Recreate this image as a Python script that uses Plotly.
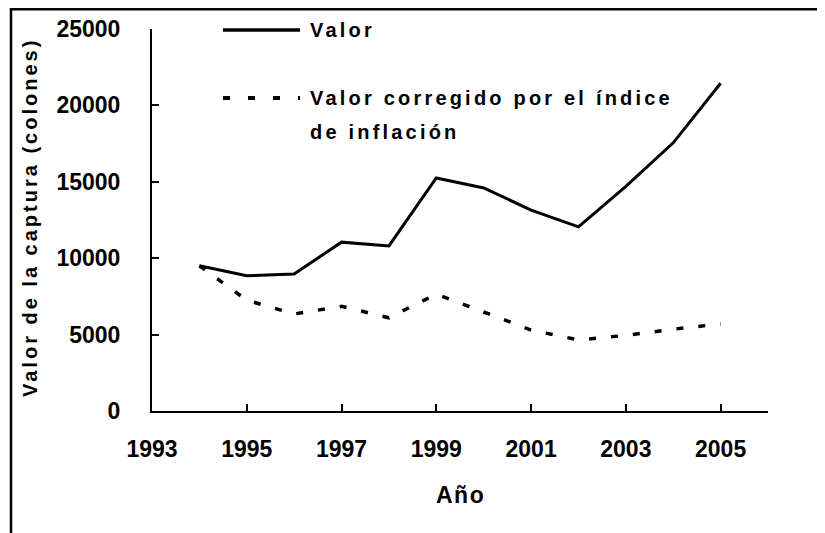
import plotly.graph_objects as go

years = [1994, 1995, 1996, 1997, 1998, 1999, 2000, 2001, 2002, 2003, 2004, 2005]
valor = [9500, 8850, 8970, 11050, 10800, 15250, 14600, 13150, 12050, 14700, 17550, 21450]
valor_corr = [9500, 7250, 6350, 6850, 6100, 7650, 6480, 5300, 4650, 4950, 5350, 5700]
x_ticks = [1993, 1995, 1997, 1999, 2001, 2003, 2005]
y_ticks = [0, 5000, 10000, 15000, 20000, 25000]

W, H = 825, 533
OFF = 8  # page body margin offset
SX0, SX1, SY0, SY1 = 152, 768, 29, 411
L, R, T, B = SX0 - OFF, W - (SX1 - OFF), SY0 - OFF, H - (SY1 - OFF)
pw, ph = W - L - R, H - T - B

def px(x):
    return (x - SX0) / pw

def py(y):
    return (SY1 - y) / ph

FONT = "Liberation Sans, Arial, sans-serif"

def spaced(txt, sp):
    return f'<span style="letter-spacing:{sp}px">{txt}</span>'

fig = go.Figure()
fig.add_trace(go.Scatter(x=years, y=valor, mode="lines", name="Valor",
                         line=dict(color="black", width=3)))
fig.add_trace(go.Scatter(x=years, y=valor_corr, mode="lines",
                         name="Valor corregido por el índice de inflación",
                         line=dict(color="black", width=3.5, dash="7px,15px")))

fig.update_layout(
    width=W, height=H,
    margin=dict(l=L, r=R, t=T, b=B),
    paper_bgcolor="white", plot_bgcolor="white",
    showlegend=False,
    font=dict(family=FONT, color="black"),
    xaxis=dict(range=[1993, 2006], tickvals=x_ticks, ticktext=[str(v) for v in x_ticks],
               showgrid=False, zeroline=False, showline=True, linecolor="black", linewidth=2,
               ticks="inside", ticklen=7, tickwidth=1.5, tickcolor="black",
               tickfont=dict(size=23, family=FONT, weight="bold"),
               ticklabelstandoff=16, automargin=False),
    yaxis=dict(range=[0, 25000], tickvals=y_ticks, ticktext=[str(v) for v in y_ticks],
               showgrid=False, zeroline=False, showline=True, linecolor="black", linewidth=2,
               ticks="inside", ticklen=7, tickwidth=1.5, tickcolor="black",
               tickfont=dict(size=23, family=FONT, weight="bold"),
               ticklabelstandoff=25, automargin=False),
)

# axis titles
fig.add_annotation(xref="paper", yref="paper", x=px(30), y=py(218),
                   xanchor="center", yanchor="middle", showarrow=False, textangle=-90,
                   text="<b>" + spaced("Valor de la captura (colones)", 3) + "</b>",
                   font=dict(size=20, family=FONT))
fig.add_annotation(xref="paper", yref="paper", x=px(460), y=py(495),
                   xanchor="center", yanchor="middle", showarrow=False,
                   text="<b>" + spaced("Año", 1.5) + "</b>",
                   font=dict(size=23, family=FONT))

# figure border (left and top visible, right/bottom cropped)
fig.add_shape(type="rect", xref="paper", yref="paper",
              x0=px(11), x1=px(W + 20), y0=py(H + 20), y1=py(9.3),
              line=dict(color="black", width=2.5), layer="above")

# legend drawn manually
fig.add_shape(type="line", xref="paper", yref="paper",
              x0=px(223), x1=px(300), y0=py(30), y1=py(30),
              line=dict(color="black", width=3.5))
fig.add_shape(type="line", xref="paper", yref="paper",
              x0=px(223), x1=px(300), y0=py(98), y1=py(98),
              line=dict(color="black", width=4, dash="7px,18px"))
fig.add_annotation(xref="paper", yref="paper", x=px(308), y=py(30),
                   xanchor="left", yanchor="middle", showarrow=False,
                   text="<b>" + spaced("Valor", 3.2) + "</b>", font=dict(size=20, family=FONT))
fig.add_annotation(xref="paper", yref="paper", x=px(308), y=py(98),
                   xanchor="left", yanchor="middle", showarrow=False,
                   text="<b>" + spaced("Valor corregido por el índice", 3.2) + "</b>",
                   font=dict(size=20, family=FONT))
fig.add_annotation(xref="paper", yref="paper", x=px(308), y=py(132),
                   xanchor="left", yanchor="middle", showarrow=False,
                   text="<b>" + spaced("de inflación", 3.2) + "</b>", font=dict(size=20, family=FONT))

fig.write_html("out.html", config={"displayModeBar": False})
